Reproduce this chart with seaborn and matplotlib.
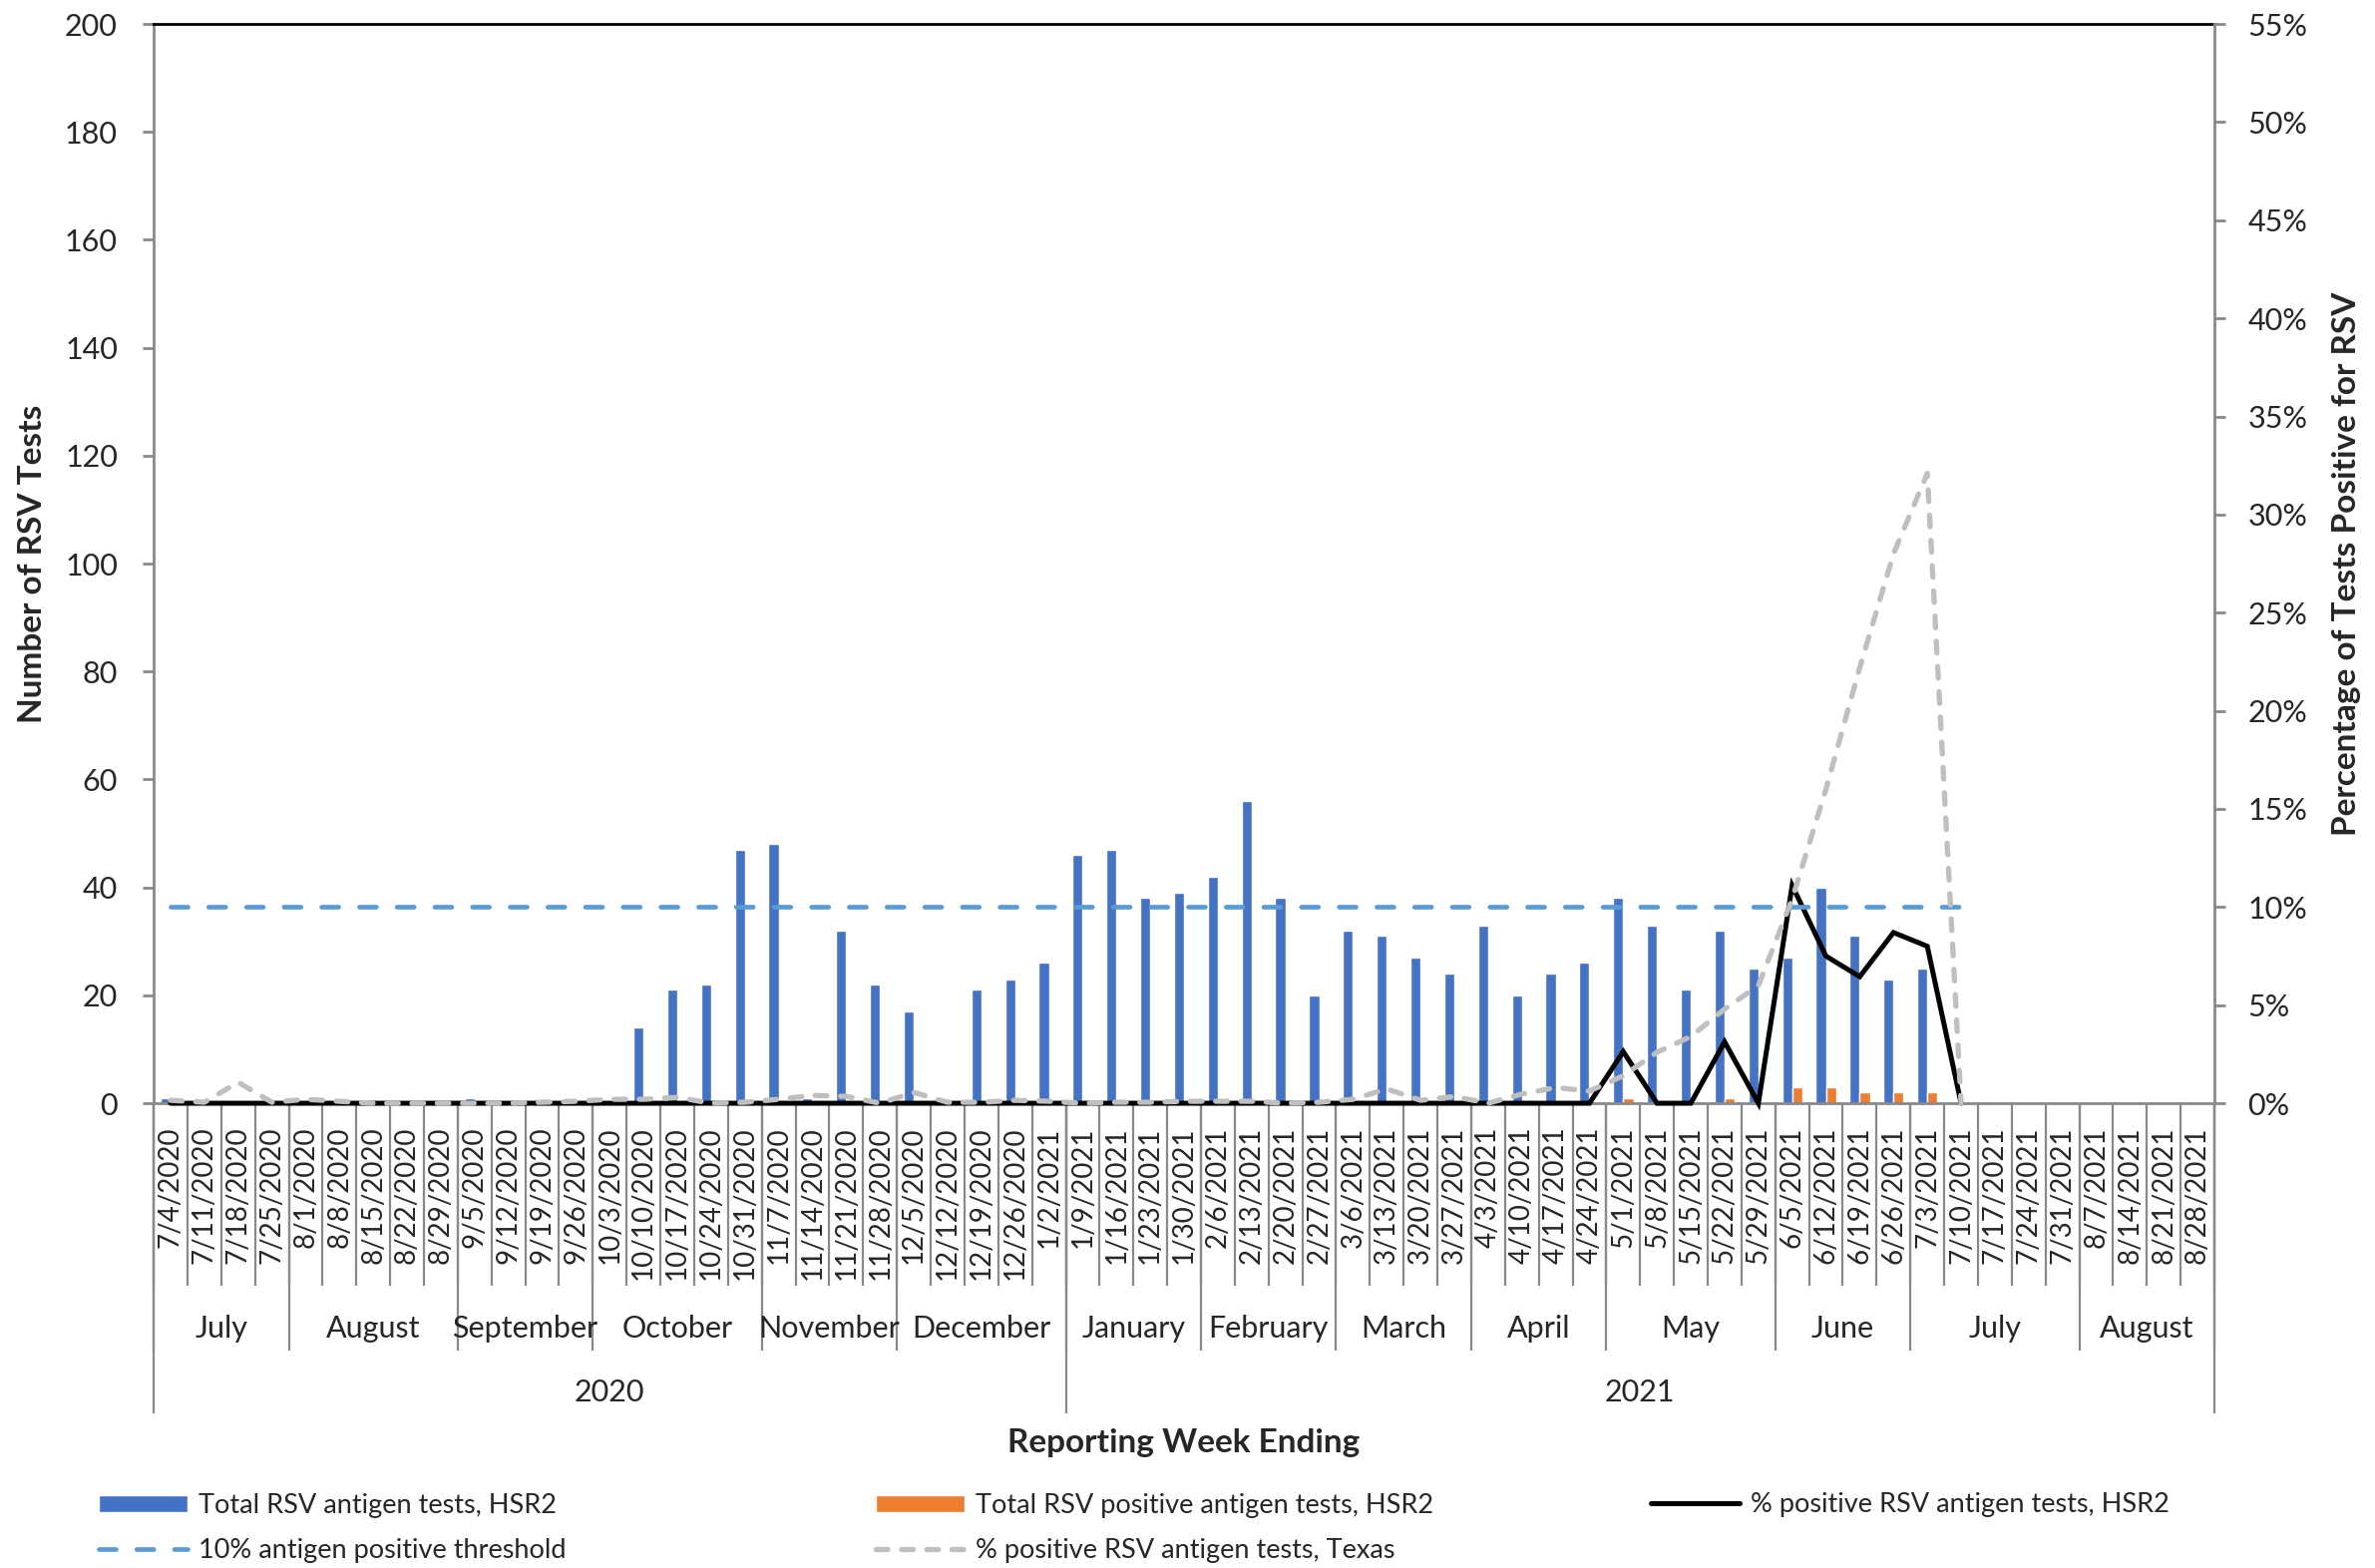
import numpy as np
import pandas as pd
import matplotlib
matplotlib.use("Agg")
import matplotlib.pyplot as plt
from matplotlib.patches import Patch
from matplotlib.lines import Line2D
from matplotlib.ticker import PercentFormatter
import seaborn as sns

sns.set_theme(style="white")
plt.rcParams['font.family'] = ['Lato', 'DejaVu Sans']

# reporting weeks (week ending)
weeks = ["7/4/2020", "7/11/2020", "7/18/2020", "7/25/2020",
         "8/1/2020", "8/8/2020", "8/15/2020", "8/22/2020", "8/29/2020",
         "9/5/2020", "9/12/2020", "9/19/2020", "9/26/2020",
         "10/3/2020", "10/10/2020", "10/17/2020", "10/24/2020", "10/31/2020",
         "11/7/2020", "11/14/2020", "11/21/2020", "11/28/2020",
         "12/5/2020", "12/12/2020", "12/19/2020", "12/26/2020", "1/2/2021",
         "1/9/2021", "1/16/2021", "1/23/2021", "1/30/2021",
         "2/6/2021", "2/13/2021", "2/20/2021", "2/27/2021",
         "3/6/2021", "3/13/2021", "3/20/2021", "3/27/2021",
         "4/3/2021", "4/10/2021", "4/17/2021", "4/24/2021",
         "5/1/2021", "5/8/2021", "5/15/2021", "5/22/2021", "5/29/2021",
         "6/5/2021", "6/12/2021", "6/19/2021", "6/26/2021",
         "7/3/2021", "7/10/2021", "7/17/2021", "7/24/2021", "7/31/2021",
         "8/7/2021", "8/14/2021", "8/21/2021", "8/28/2021"]

# month groups: label and number of weeks in it
months = ["July", "August", "September", "October", "November", "December",
          "January", "February", "March", "April", "May", "June", "July", "August"]
month_weeks = [4, 5, 4, 5, 4, 5, 4, 4, 4, 4, 5, 4, 5, 4]
years = ["2020", "2021"]
year_weeks = [27, 34]

total_tests = [1, 0, 0, 0, 0, 0, 0, 0, 0, 1, 0, 0, 1, 0, 14, 21, 22, 47, 48, 1,
               32, 22, 17, 1, 21, 23, 26, 46, 47, 38, 39, 42, 56, 38, 20, 32, 31,
               27, 24, 33, 20, 24, 26, 38, 33, 21, 32, 25, 27, 40, 31, 23, 25,
               0, 0, 0, 0, 0, 0, 0, 0]
positive_tests = [0] * 43 + [1, 0, 0, 1, 0, 3, 3, 2, 2, 2] + [0] * 8

# percent positive, HSR2 (through 7/10/2021)
pct_hsr2 = [0] * 43 + [2.63, 0, 0, 3.13, 0, 11.1, 7.5, 6.45, 8.7, 8.0, 0]
# percent positive, Texas (through 7/10/2021)
pct_texas = [0.15, 0.05, 1.07, 0.05, 0.2, 0.1, 0.0, 0.0, 0.0, 0.0, 0.0, 0.05,
             0.1, 0.2, 0.2, 0.3, 0.0, 0.05, 0.2, 0.4, 0.35, 0.0, 0.55, 0.05,
             0.05, 0.15, 0.1, 0.0, 0.05, 0.05, 0.1, 0.1, 0.1, 0.0, 0.05, 0.2,
             0.73, 0.15, 0.34, 0.0, 0.47, 0.8, 0.62, 1.4, 2.6, 3.4, 4.8, 6.0,
             10.4, 16.0, 22.2, 28.0, 32.1, 0.0]
threshold = 10

lab_total = "Total RSV antigen tests, HSR2"
lab_pos = "Total RSV positive antigen tests, HSR2"
lab_hsr2 = "% positive RSV antigen tests, HSR2"
lab_thr = "10% antigen positive threshold"
lab_tx = "% positive RSV antigen tests, Texas"

c_blue = "#4472C4"
c_orange = "#ED7D31"
c_thr = "#5B9BD5"
c_gray = "#BFBFBF"
c_axis = "#898989"

n = len(weeks)
bars = pd.DataFrame({
    "week": weeks * 2,
    "series": [lab_total] * n + [lab_pos] * n,
    "count": total_tests + positive_tests,
})

fig = plt.figure(figsize=(23.81, 15.72), dpi=100)
ax = fig.add_axes([0.0647, 0.2964, 0.8677, 0.6883])

sns.barplot(data=bars, x="week", y="count", hue="series", order=weeks,
            hue_order=[lab_total, lab_pos], palette=[c_blue, c_orange],
            width=0.6, gap=0, saturation=1, legend=False, ax=ax)
ax.set_xlim(-0.5, n - 0.5)
ax.set_ylim(0, 200)
ax.set_yticks(range(0, 201, 20))
ax.set_xlabel("")
ax.set_ylabel("Number of RSV Tests", fontsize=24, fontweight="bold", va="center")
ax.yaxis.set_label_coords(-0.059, 0.5)
ax.tick_params(axis="y", direction="out", length=8, width=2, color=c_axis,
               pad=18, labelsize=22, left=True)
ax.set_xticks(range(n))
ax.set_xticklabels(weeks, rotation=90, fontsize=20, va="top", ha="center")
ax.tick_params(axis="x", length=0, pad=17)

for side in ["left", "bottom"]:
    ax.spines[side].set_color(c_axis)
    ax.spines[side].set_linewidth(2)
ax.spines["right"].set_visible(False)
ax.spines["top"].set_color("black")
ax.spines["top"].set_linewidth(2)

# secondary axis for percentages
ax2 = ax.twinx()
sns.lineplot(x=np.arange(len(pct_hsr2)), y=pct_hsr2, ax=ax2, color="black",
             linewidth=3.6)
sns.lineplot(x=np.arange(len(pct_texas)), y=[threshold] * len(pct_texas), ax=ax2,
             color=c_thr, linewidth=3.4, linestyle=(0, (3.6, 4.4)))
sns.lineplot(x=np.arange(len(pct_texas)), y=pct_texas, ax=ax2, color=c_gray,
             linewidth=3.8, linestyle=(0, (2.2, 2.6)))
for ln in ax2.lines:
    ln.set_clip_on(False)
    ln.set_dash_capstyle("round")
    ln.set_solid_joinstyle("miter")
ax2.set_ylim(0, 55)
ax2.set_yticks(range(0, 56, 5))
ax2.yaxis.set_major_formatter(PercentFormatter(decimals=0))
ax2.tick_params(axis="y", direction="out", length=8, width=2, color=c_axis,
                pad=16, labelsize=22, right=True)
ax2.set_ylabel("Percentage of Tests Positive for RSV", fontsize=24,
               fontweight="bold", va="center")
ax2.yaxis.set_label_coords(1.064, 0.5)
for side in ["left", "top", "bottom"]:
    ax2.spines[side].set_visible(False)
ax2.spines["right"].set_color(c_axis)
ax2.spines["right"].set_linewidth(2)
ax2.set_xlim(-0.5, n - 0.5)

# multi-level category axis: week / month / year separators
trans = ax.get_xaxis_transform()
ax.vlines(np.arange(n + 1) - 0.5, -0.169, 0, transform=trans, colors=c_axis,
          linewidth=1.6, clip_on=False)
mb = np.concatenate([[0], np.cumsum(month_weeks)])
ax.vlines(mb - 0.5, -0.229, 0, transform=trans, colors=c_axis,
          linewidth=1.6, clip_on=False)
yb = np.concatenate([[0], np.cumsum(year_weeks)])
ax.vlines(yb - 0.5, -0.287, 0, transform=trans, colors=c_axis,
          linewidth=1.6, clip_on=False)
for name, a, b in zip(months, mb[:-1], mb[1:]):
    ax.text((a + b) / 2 - 0.5, -0.209, name, transform=trans, ha="center",
            va="center", fontsize=22)
for name, a, b in zip(years, yb[:-1], yb[1:]):
    ax.text((a + b) / 2 - 0.5, -0.268, name, transform=trans, ha="center",
            va="center", fontsize=22)

fig.text(0.4985, 0.080, "Reporting Week Ending", ha="center", va="center",
         fontsize=24, fontweight="bold")

# legend in three columns
leg_kw = dict(frameon=False, fontsize=19.5, handlelength=3.3, handleheight=0.55,
              handletextpad=0.4, borderpad=0, borderaxespad=0, labelspacing=0.72)
h_total = Patch(facecolor=c_blue)
h_pos = Patch(facecolor=c_orange)
h_hsr2 = Line2D([], [], color="black", linewidth=3.6)
h_thr = Line2D([], [], color=c_thr, linewidth=3.4, linestyle=(0, (3.6, 4.4)),
               dash_capstyle="round")
h_tx = Line2D([], [], color=c_gray, linewidth=3.8, linestyle=(0, (2.2, 2.6)),
              dash_capstyle="round")
fig.legend([h_total, h_thr], [lab_total, lab_thr], loc="center left",
           bbox_to_anchor=(0.0416, 0.0255), **leg_kw)
fig.legend([h_pos, h_tx], [lab_pos, lab_tx], loc="center left",
           bbox_to_anchor=(0.3688, 0.0255), **leg_kw)
fig.legend([h_hsr2], [lab_hsr2], loc="center left",
           bbox_to_anchor=(0.6951, 0.0405), **leg_kw)

fig.savefig("out.png", dpi=100)
